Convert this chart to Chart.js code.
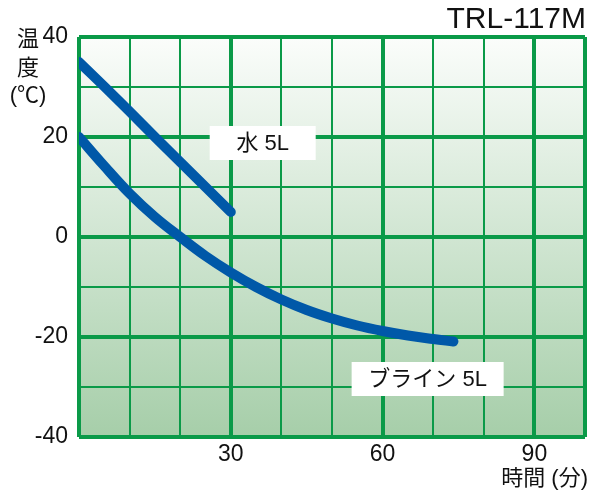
<!DOCTYPE html>
<html lang="ja">
<head>
<meta charset="UTF-8">
<title>TRL-117M</title>
<script src="https://cdn.jsdelivr.net/npm/chart.js"></script>
<style>
  body { margin: 0; background: #fff; }
  #wrap { width: 600px; height: 494px; }
</style>
</head>
<body>
<div id="wrap"><canvas id="myChart"></canvas></div>
<script>
// 時間 (分)
var waterTime = [0, 5, 10, 15, 20, 25, 30];
var waterTemp = [35, 30.1, 25.1, 20.0, 15.0, 10.0, 5];
var brineTime = [0, 5, 10, 15, 20, 25, 30, 35, 40, 45, 50, 55, 60, 65, 70, 74];
var brineTemp = [20, 14.2, 8.7, 4.0, 0, -3.8, -7.1, -10.0, -12.5, -14.6, -16.3, -17.7, -18.8, -19.7, -20.4, -20.9];
var xTicks = [30, 60, 90];
var yTicks = [40, 20, 0, -20, -40];
var labelWater = '水 5L';
var labelBrine = 'ブライン 5L';
var modelName = 'TRL-117M';

var fontJP = "'Liberation Sans', 'Noto Sans CJK JP', sans-serif";
var green = '#0a9a48';
var blue = '#0058a8';

function toPoints(xs, ys) {
    return xs.map(function (x, i) { return { x: x, y: ys[i] }; });
}

// fundo degradê + caixas de texto
var decor = {
    id: 'decor',
    beforeDraw: function (chart) {
        var a = chart.chartArea, c = chart.ctx;
        var g = c.createLinearGradient(0, a.top, 0, a.bottom);
        g.addColorStop(0, '#fbfdfb');
        g.addColorStop(1, '#a6cea9');
        c.save();
        c.fillStyle = g;
        c.fillRect(a.left, a.top, a.right - a.left, a.bottom - a.top);
        c.restore();
    },
    afterDraw: function (chart) {
        var c = chart.ctx;
        var xs = chart.scales.x, ys = chart.scales.y;
        c.save();
        // caixa 水 5L
        var bx = xs.getPixelForValue(36.3), by = ys.getPixelForValue(18.8);
        c.fillStyle = '#fff';
        c.fillRect(bx - 53, by - 17, 106, 34);
        c.fillStyle = '#111';
        c.font = '22px ' + fontJP;
        c.textAlign = 'center';
        c.textBaseline = 'middle';
        c.fillText(labelWater, bx, by + 1);
        // caixa ブライン 5L
        bx = xs.getPixelForValue(68.9); by = ys.getPixelForValue(-28.4);
        c.fillStyle = '#fff';
        c.fillRect(bx - 76, by - 17, 152, 34);
        c.fillStyle = '#111';
        c.fillText(labelBrine, bx, by + 1);
        // título
        c.font = '30px ' + fontJP;
        c.textAlign = 'right';
        c.textBaseline = 'alphabetic';
        c.fillText(modelName, 586, 28);
        // eixo y
        c.font = '22px ' + fontJP;
        c.textAlign = 'center';
        c.textBaseline = 'middle';
        c.fillText('温', 28, 40);
        c.fillText('度', 28, 69);
        c.fillText('(℃)', 28, 96);
        // eixo x
        c.textAlign = 'right';
        c.fillText('時間 (分)', 588, 479);
        c.restore();
    }
};

const ctx = document.getElementById('myChart');

new Chart(ctx, {
    type: 'line',
    data: {
        datasets: [{
            label: labelWater,
            data: toPoints(waterTime, waterTemp),
            borderColor: blue,
            borderWidth: 10,
            borderCapStyle: 'round',
            pointRadius: 0,
            tension: 0.4
        },
        {
            label: labelBrine,
            data: toPoints(brineTime, brineTemp),
            borderColor: blue,
            borderWidth: 10,
            borderCapStyle: 'round',
            pointRadius: 0,
            tension: 0.4
        }]
    },
    options: {
        responsive: true,
        maintainAspectRatio: false,
        animation: false,
        layout: { padding: { top: 37, right: 15, left: 0, bottom: 0 } },
        plugins: { legend: { display: false }, tooltip: { enabled: false } },
        scales: {
            x: {
                type: 'linear',
                min: 0,
                max: 100,
                afterFit: function (s) { s.height = 57; },
                border: { display: false },
                grid: {
                    color: green,
                    drawTicks: false,
                    lineWidth: function (c) {
                        var v = c.tick.value;
                        return (v % 30 === 0 || v === 100) ? 4 : 2;
                    }
                },
                ticks: {
                    stepSize: 10,
                    padding: 4,
                    color: '#111',
                    maxRotation: 0,
                    autoSkip: false,
                    font: { size: 23, family: fontJP },
                    callback: function (v) { return xTicks.indexOf(v) >= 0 ? v : ''; }
                }
            },
            y: {
                min: -40,
                max: 40,
                afterFit: function (s) { s.width = 79; },
                border: { display: false },
                grid: {
                    color: green,
                    drawTicks: false,
                    lineWidth: function (c) {
                        return c.tick.value % 20 === 0 ? 4 : 2;
                    }
                },
                ticks: {
                    stepSize: 10,
                    padding: 11,
                    color: '#111',
                    autoSkip: false,
                    font: { size: 23, family: fontJP },
                    callback: function (v) { return yTicks.indexOf(v) >= 0 ? v : ''; }
                }
            }
        }
    },
    plugins: [decor]
});
</script>
</body>
</html>
